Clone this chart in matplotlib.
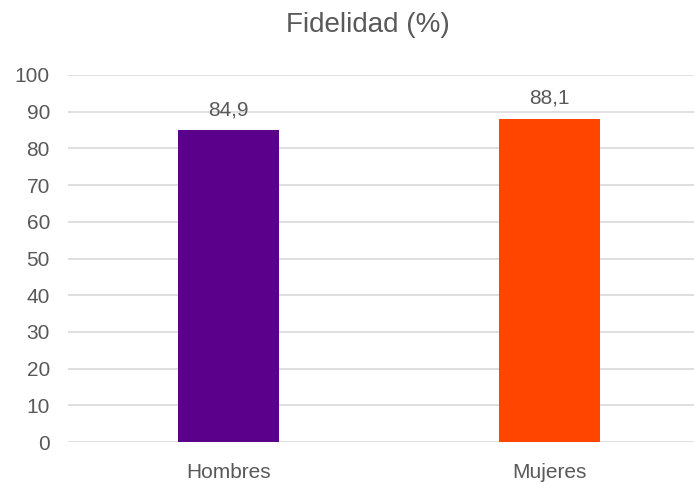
import matplotlib
matplotlib.use('Agg')
import matplotlib.pyplot as plt

# Data
categories = ['Hombres', 'Mujeres']
values = [84.9, 88.1]
colors = ['#5B008A', '#FF4500']
yticks = [0, 10, 20, 30, 40, 50, 60, 70, 80, 90, 100]

plt.rcParams['font.family'] = ['Liberation Sans', 'DejaVu Sans']
text_color = '#595959'

fig = plt.figure(figsize=(6.94, 4.83), dpi=100)
ax = fig.add_axes([68/694, 41/483, 642/694, 367/483])

x = range(len(categories))
bars = ax.bar(x, values, width=0.315, color=colors, zorder=3)

ax.set_xlim(-0.5, len(categories) - 0.5)
ax.set_ylim(0, 100)
ax.set_yticks(yticks)
ax.set_xticks(list(x))
ax.set_xticklabels(categories)
ax.yaxis.grid(True, color='#D9D9D9', linewidth=1.2, zorder=0)
ax.tick_params(axis='both', length=0, labelsize=15, colors=text_color)
ax.tick_params(axis='x', pad=15)
ax.tick_params(axis='y', pad=13)
for s in ax.spines.values():
    s.set_visible(False)

for b, v in zip(bars, values):
    ax.text(b.get_x() + b.get_width() / 2, v + 3.0, f'{v:.1f}'.replace('.', ','),
            ha='center', va='bottom', fontsize=15, color=text_color)

fig.text(368/694, 1 - 25/483, 'Fidelidad (%)', ha='center', va='center',
         fontsize=20, color=text_color)

fig.savefig('out.png', dpi=100)
